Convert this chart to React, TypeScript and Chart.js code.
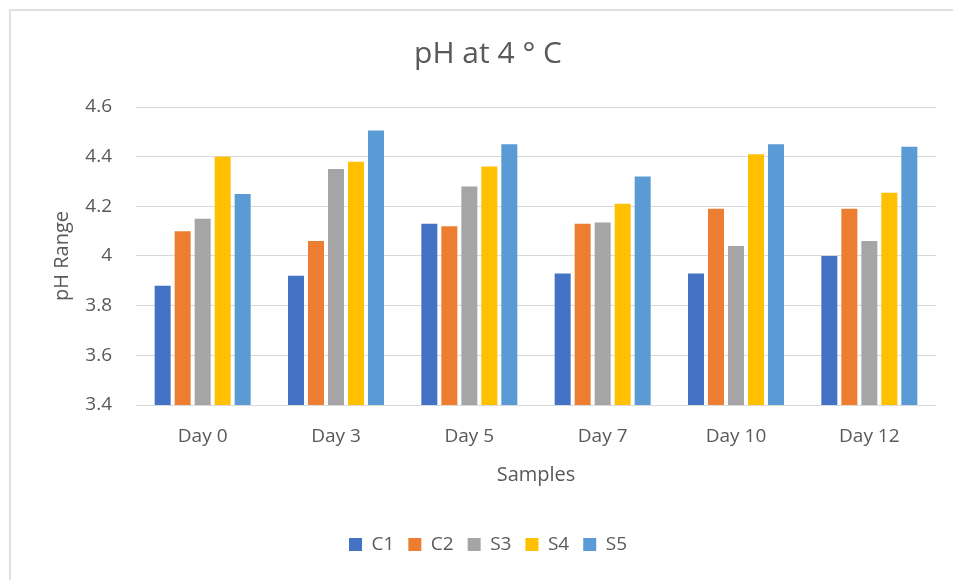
import React, { useEffect, useRef } from "react";
import { Chart, registerables } from "chart.js";

Chart.register(...registerables);

const categories = ["Day 0", "Day 3", "Day 5", "Day 7", "Day 10", "Day 12"];
const c1 = [3.88, 3.92, 4.13, 3.93, 3.93, 4.0];
const c2 = [4.1, 4.06, 4.12, 4.13, 4.19, 4.19];
const s3 = [4.15, 4.35, 4.28, 4.135, 4.04, 4.06];
const s4 = [4.4, 4.38, 4.36, 4.21, 4.41, 4.255];
const s5 = [4.25, 4.505, 4.45, 4.32, 4.45, 4.44];
const seriesNames = ["C1", "C2", "S3", "S4", "S5"];
const seriesColors = ["#4472C4", "#ED7D31", "#A5A5A5", "#FFC000", "#5B9BD5"];
const yTickLabels = ["3.4", "3.6", "3.8", "4", "4.2", "4.4", "4.6"];

const FONT = "'Open Sans', 'Noto Sans', sans-serif";
const TEXT = "#595959";

export default function App() {
  const ref = useRef<HTMLCanvasElement | null>(null);

  useEffect(() => {
    if (!ref.current) return;
    const series = [c1, c2, s3, s4, s5];
    const chart = new Chart(ref.current, {
      type: "bar",
      data: {
        labels: categories,
        datasets: series.map((d, i) => ({
          label: seriesNames[i],
          data: d,
          backgroundColor: seriesColors[i],
          borderWidth: 0,
          categoryPercentage: 0.75,
          barPercentage: 0.8,
        })),
      },
      options: {
        responsive: false,
        animation: false,
        layout: { padding: { left: 40, right: 44, top: 18, bottom: 16 } },
        plugins: {
          title: {
            display: true,
            text: "pH at 4 ° C",
            color: TEXT,
            font: { family: FONT, size: 30, weight: "normal" },
            padding: { top: 18, bottom: 35 },
          },
          legend: {
            position: "bottom",
            labels: {
              color: TEXT,
              font: { family: FONT, size: 19 },
              boxWidth: 13,
              boxHeight: 13,
              padding: 14,
            },
          },
          tooltip: { enabled: false },
        },
        scales: {
          x: {
            grid: { display: false },
            border: { display: false },
            ticks: {
              color: TEXT,
              font: { family: FONT, size: 19 },
              padding: 12,
            },
            title: {
              display: true,
              text: "Samples",
              color: TEXT,
              font: { family: FONT, size: 20 },
              padding: { top: 4, bottom: 34 },
            },
            afterFit: (s: any) => {
              s.height = 116;
            },
          },
          y: {
            min: 3.4,
            max: 4.6,
            border: { display: false },
            grid: { color: "#d9d9d9", lineWidth: 1, drawTicks: false },
            ticks: {
              stepSize: 0.2,
              color: TEXT,
              font: { family: FONT, size: 19 },
              padding: 24,
              callback: (_v: any, i: number) => yTickLabels[i],
            },
            title: {
              display: true,
              text: "pH Range",
              color: TEXT,
              font: { family: FONT, size: 20 },
              padding: { top: 10, bottom: 4 },
            },
            afterFit: (s: any) => {
              s.width = 96;
            },
          },
        },
      },
    });
    return () => chart.destroy();
  }, []);

  return (
    <div style={{ position: "fixed", left: 0, top: 0, width: 953, height: 580, overflow: "hidden", background: "#fff" }}>
      <div
        style={{
          position: "absolute",
          left: 9,
          top: 9,
          width: 1000,
          height: 1000,
          border: "2px solid #e0e0e0",
        }}
      />
      <canvas ref={ref} width={980} height={580} style={{ position: "absolute", left: 0, top: 0 }} />
    </div>
  );
}
